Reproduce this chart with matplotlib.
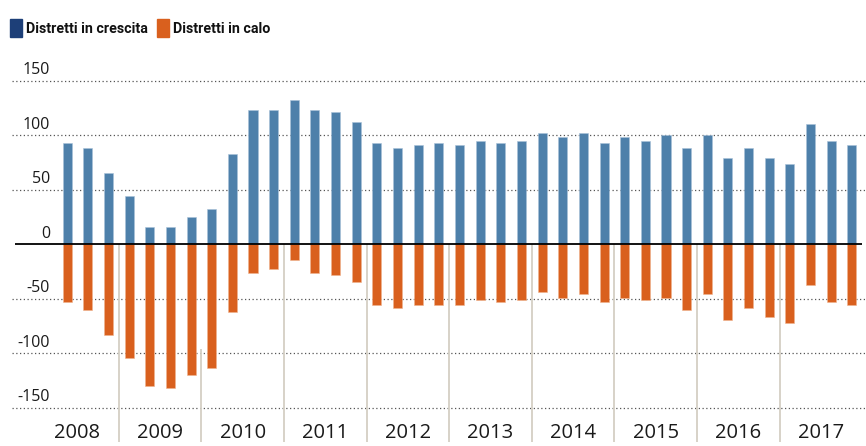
import numpy as np
import matplotlib.pyplot as plt
from matplotlib.patches import Rectangle

# quarterly data, from 2008 Q2 to 2017 Q4
years = list(range(2008, 2018))
crescita = [93, 88, 65,
            44, 16, 16, 25,
            32, 83, 123, 123,
            132, 123, 121, 112,
            93, 88, 91, 93,
            91, 95, 93, 95,
            102, 98, 102, 93,
            98, 95, 100, 88,
            100, 79, 88, 79,
            74, 110, 95, 91]
calo = [-53, -60, -83,
        -104, -130, -132, -120,
        -113, -62, -26, -23,
        -14, -26, -28, -35,
        -56, -58, -56, -56,
        -56, -51, -53, -51,
        -44, -49, -46, -53,
        -49, -51, -49, -60,
        -46, -69, -58, -67,
        -72, -37, -53, -56]
y_ticks = [150, 100, 50, 0, -50, -100, -150]
labels = ["Distretti in crescita", "Distretti in calo"]

blue = "#4e80aa"
orange = "#d9601e"
legend_colors = ["#1d3f78", "#d9601e"]
text_col = "#1a1a1a"
divider_col = "#d4cfc4"

fig = plt.figure(figsize=(8.66, 4.46), dpi=100)
ax = fig.add_axes([0, 0, 1, 1])
ax.set_xlim(-2.252, 39.685)
ax.set_ylim(-185.0, 224.1)
ax.axis("off")

x = np.arange(1, len(crescita) + 1)  # slot 0 = 2008 Q1 (no data)

# grid
for t in y_ticks:
    if t != 0:
        ax.hlines(t, -1.67, 39.685, colors="#555555", linestyles=(0, (1, 2)),
                  linewidth=0.9, zorder=1)
    ax.text(0.17, t + 2.5, str(t), ha="right", va="bottom", fontsize=11.5,
            color=text_col, family=["Open Sans", "DejaVu Sans"])

# year dividers
div_pos = [3.5 + 4 * k for k in range(9)]
div_start = [0, -96, 0, 0, 0, 0, 0, 0, 0]
for p, s in zip(div_pos, div_start):
    ax.vlines(p, -181, s, colors=divider_col, linewidth=1.3, zorder=1)

ax.bar(x, crescita, width=0.44, color=blue, edgecolor="#a9c1d8",
       linewidth=0.4, zorder=3)
ax.bar(x, calo, width=0.44, color=orange, edgecolor="#f0b48f",
       linewidth=0.4, zorder=3)
ax.hlines(0, -1.525, 39.49, colors="black", linewidth=1.3, zorder=4)

for k, yr in enumerate(years):
    ax.text(1.5 + 4 * k, -173, str(yr), ha="center", va="center",
            fontsize=14.5, color=text_col, family=["Open Sans", "DejaVu Sans"])

# legend
leg_x = [10, 157]
for lx, lab, c in zip(leg_x, labels, legend_colors):
    fig.patches.append(Rectangle((lx / 866, 1 - 37 / 446), 12 / 866, 18 / 446,
                                 transform=fig.transFigure, color=c))
    fig.text((lx + 16) / 866, 1 - 29 / 446, lab, ha="left", va="center",
             fontsize=10.3, fontweight="bold", fontstretch="condensed",
             color="#111111", family=["Roboto", "DejaVu Sans"])

fig.savefig("out.png", dpi=100)
